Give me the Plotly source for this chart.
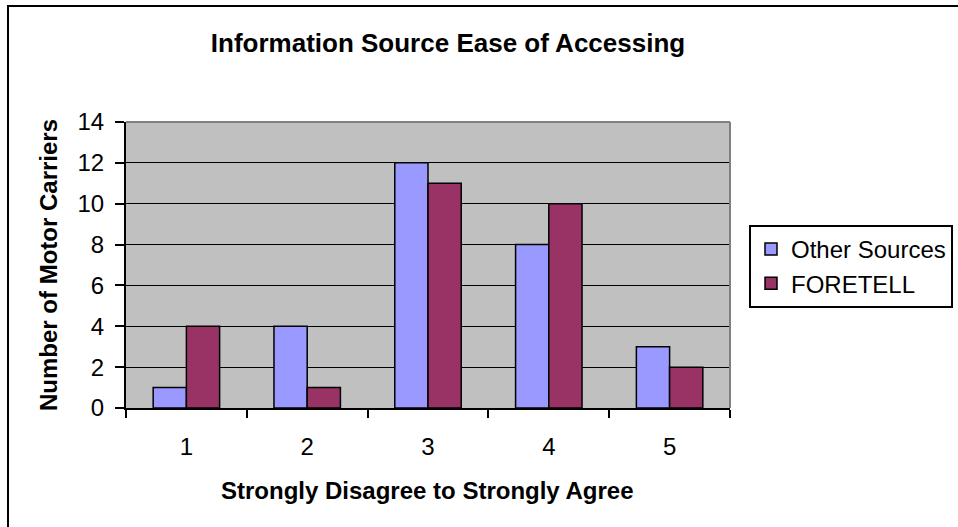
import plotly.graph_objects as go

categories = ["1", "2", "3", "4", "5"]
other_sources = [1, 4, 12, 8, 3]
foretell = [4, 1, 11, 10, 2]
y_ticks = [0, 2, 4, 6, 8, 10, 12, 14]

W, H = 958, 527
L, R, T, B = 126, 730, 122, 408

FONT = "Liberation Sans, Arial, sans-serif"

fig = go.Figure()
fig.add_trace(go.Bar(x=categories, y=other_sources, name="Other Sources",
                     marker=dict(color="#9999FF", line=dict(color="black", width=1.5))))
fig.add_trace(go.Bar(x=categories, y=foretell, name="FORETELL",
                     marker=dict(color="#993366", line=dict(color="black", width=1.5))))

fig.update_layout(
    width=W, height=H,
    margin=dict(l=L, r=W - R, t=T, b=H - B, autoexpand=False),
    paper_bgcolor="white",
    plot_bgcolor="#C0C0C0",
    barmode="group",
    bargap=0.45,
    bargroupgap=0,
    font=dict(family=FONT, color="black", size=24),
    title=dict(text="<b>Information Source Ease of Accessing</b>",
               x=448 / W, xref="container", xanchor="center",
               y=1 - 43 / H, yref="container", yanchor="middle",
               font=dict(size=26, family=FONT, color="black")),
    showlegend=True,
    legend=dict(x=749 / W, xref="container", xanchor="left",
                y=1 - 225 / H, yref="container", yanchor="top",
                bgcolor="white", bordercolor="black", borderwidth=2,
                font=dict(size=24, family=FONT, color="black"),
                tracegroupgap=0),
    xaxis=dict(type="category", showline=True, linecolor="black", linewidth=2,
               ticks="outside", tickson="boundaries", ticklen=8, tickwidth=2,
               tickcolor="black", showgrid=False, zeroline=False,
               tickfont=dict(size=24), ticklabelstandoff=16),
    yaxis=dict(range=[0, 14], tickvals=y_ticks, showline=True, linecolor="black",
               linewidth=2, ticks="outside", ticklen=9, tickwidth=2, tickcolor="black",
               showgrid=True, gridcolor="black", gridwidth=1, zeroline=False,
               tickfont=dict(size=24), ticklabelstandoff=6),
    shapes=[
        dict(type="line", xref="paper", yref="paper", x0=0, x1=1, y0=1, y1=1,
             line=dict(color="#808080", width=2)),
        dict(type="line", xref="paper", yref="paper", x0=1, x1=1, y0=0, y1=1,
             line=dict(color="#808080", width=2)),
        dict(type="line", xref="paper", yref="paper",
             x0=(7 - L) / (R - L), x1=(W + 10 - L) / (R - L),
             y0=(B - 6) / (B - T), y1=(B - 6) / (B - T),
             line=dict(color="black", width=2)),
        dict(type="line", xref="paper", yref="paper",
             x0=(8 - L) / (R - L), x1=(8 - L) / (R - L),
             y0=(B - 5) / (B - T), y1=(B - H - 10) / (B - T),
             line=dict(color="black", width=2)),
    ],
    annotations=[
        dict(text="<b>Strongly Disagree to Strongly Agree</b>", xref="paper", yref="paper",
             x=(427 - L) / (R - L), y=(B - 490) / (B - T), xanchor="center", yanchor="middle",
             showarrow=False, font=dict(size=24, family=FONT, color="black")),
        dict(text="<b>Number of Motor Carriers</b>", xref="paper", yref="paper",
             x=(48 - L) / (R - L), y=(B - 265) / (B - T), xanchor="center", yanchor="middle",
             textangle=-90, showarrow=False, font=dict(size=24, family=FONT, color="black")),
    ],
)

fig.write_html("out.html")
